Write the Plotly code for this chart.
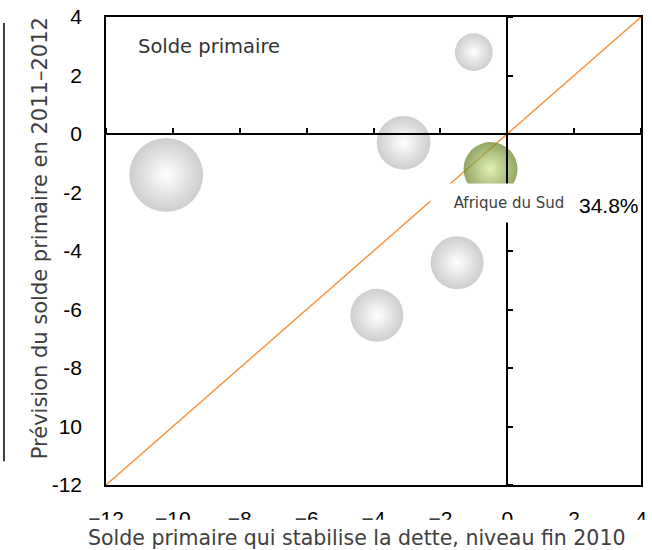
import plotly.graph_objects as go

# bubbles: x = solde stabilisant la dette, y = prévision, size = dette (% PIB)
stab_balance = [-10.2, -3.1, -1.0, -1.5, -3.9]
forecast_balance = [-1.4, -0.3, 2.8, -4.4, -6.2]
debt_level = [65.0, 34.5, 17.0, 33.5, 33.5]

za_x = [-0.5]
za_y = [-1.2]
za_debt = [34.8]
za_name = "Afrique du Sud"

x_ticks = [-12, -10, -8, -6, -4, -2, 0, 2, 4]
y_ticks = [-12, -10, -8, -6, -4, -2, 0, 2, 4]
y_ticktext = ["-12", "10", "-8", "-6", "-4", "-2", "0", "2", "4"]

x_title = "Solde primaire qui stabilise la dette, niveau fin 2010"
y_title = "Prévision du solde primaire en 2011–2012"

sizeref = 2 * 34.8 / 54 ** 2

fig = go.Figure()

# 45° line
fig.add_trace(go.Scatter(x=[-12, 4], y=[-12, 4], mode="lines",
                         line=dict(color="#F79646", width=1.5),
                         hoverinfo="skip", showlegend=False))

fig.add_trace(go.Scatter(
    x=stab_balance, y=forecast_balance, mode="markers",
    marker=dict(size=debt_level, sizemode="area", sizeref=sizeref,
                color="#B8B8B8", gradient=dict(type="radial", color="#FFFFFF"),
                line=dict(width=0)),
    showlegend=False))

fig.add_trace(go.Scatter(
    x=za_x, y=za_y, mode="markers",
    marker=dict(size=za_debt, sizemode="area", sizeref=sizeref,
                color="#647F22", gradient=dict(type="radial", color="#D6EC98"),
                line=dict(width=0)),
    showlegend=False))

# invisible trace so the crossing axes are drawn
fig.add_trace(go.Scatter(x=[None], y=[None], xaxis="x2", yaxis="y2",
                         showlegend=False))

fig.update_layout(
    width=652, height=550,
    margin=dict(l=106, r=5, t=14, b=65),
    paper_bgcolor="white", plot_bgcolor="white",
    font=dict(family="Liberation Sans", color="black"),
    xaxis=dict(range=[-12, 4], tickvals=x_ticks, showgrid=False, zeroline=False,
               showline=True, mirror=True, linecolor="black", linewidth=1.5,
               ticks="", tickfont=dict(size=21), ticklabelstandoff=14),
    yaxis=dict(range=[-12, 4], tickvals=y_ticks, ticktext=y_ticktext,
               showgrid=False, zeroline=False,
               showline=True, mirror=True, linecolor="black", linewidth=1.5,
               ticks="", tickfont=dict(size=21), ticklabelstandoff=18),
    xaxis2=dict(range=[-12, 4], tickvals=x_ticks, overlaying="x", anchor="free",
                position=0.75, side="top", showline=True, linecolor="black",
                linewidth=1.5, ticks="outside", ticklen=5, tickwidth=1.5,
                tickcolor="black", showticklabels=False, showgrid=False,
                zeroline=False),
    yaxis2=dict(range=[-12, 4], tickvals=y_ticks, overlaying="y", anchor="free",
                position=0.75, side="right", showline=True, linecolor="black",
                linewidth=1.5, ticks="outside", ticklen=5, tickwidth=1.5,
                tickcolor="black", showticklabels=False, showgrid=False,
                zeroline=False),
    shapes=[
        # white band that hides the lower part of the x tick labels
        dict(type="rect", xref="paper", yref="paper", x0=-0.25, x1=1.05,
             y0=-0.14, y1=-0.074, fillcolor="white", line=dict(width=0),
             layer="above"),
        dict(type="line", xref="paper", yref="paper", x0=-0.1907, x1=-0.1907,
             y0=0.051, y1=0.987, line=dict(color="black", width=1.5)),
    ],
    annotations=[
        dict(text=x_title, xref="paper", yref="paper", x=0.4685, y=-0.1125,
             xanchor="center", yanchor="middle", showarrow=False,
             font=dict(family="DejaVu Sans", size=20.5, color="#404040")),
        dict(text=y_title, xref="paper", yref="paper", x=-0.124, y=0.5265,
             xanchor="center", yanchor="middle", textangle=-90, showarrow=False,
             font=dict(family="DejaVu Sans", size=21, color="#404040")),
        dict(text="Solde primaire", xref="paper", yref="paper", x=0.056, y=0.938,
             xanchor="left", yanchor="middle", showarrow=False,
             font=dict(family="DejaVu Sans", size=19.5, color="#333333")),
        dict(text=za_name, x=0.06, y=-2.35, xanchor="center", yanchor="middle",
             showarrow=False, bgcolor="white", width=154, height=36,
             font=dict(family="DejaVu Sans", size=15, color="#404040")),
        dict(text=f"{za_debt[0]}%", x=4, y=-2.45, xanchor="right",
             yanchor="middle", showarrow=False,
             font=dict(family="Liberation Sans", size=21, color="black")),
    ],
)

fig.write_html("out.html", config={"displayModeBar": False},
               post_script="document.body.style.margin='0';")
